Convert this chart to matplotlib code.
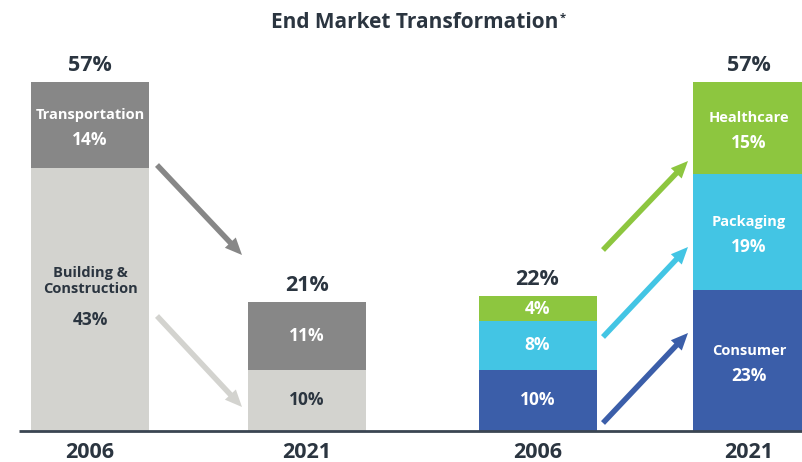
import matplotlib
matplotlib.use("Agg")
import matplotlib.pyplot as plt
from matplotlib.patches import FancyArrow

# ---- data ----
years = ["2006", "2021", "2006", "2021"]
totals = ["57%", "21%", "22%", "57%"]
# left group
left_segments = ["Building &\nConstruction", "Transportation"]
left_2006 = [43, 14]
left_2021 = [10, 11]
# right group
right_segments = ["Consumer", "Packaging", "Healthcare"]
right_2006 = [10, 8, 4]
right_2021 = [23, 19, 15]

# ---- style / layout ----
W, H = 802, 462
DARK = "#2b3540"
left_colors = ["#d3d3cf", "#878787"]
left_text = [DARK, "white"]
right_colors = ["#3b5ea9", "#43c5e4", "#8dc63f"]
centers = [90, 307, 537.5, 752]
bar_w = 118
base_px = 431
plt.rcParams['font.family'] = ['Open Sans', 'DejaVu Sans']

fig = plt.figure(figsize=(W / 100, H / 100), dpi=100)
ax = fig.add_axes([0, (H - base_px) / H, 1, base_px / H])
px_per_pct = 6.12
ax.set_xlim(0, W)
ax.set_ylim(0, base_px / px_per_pct)
ax.axis("off")

NAME_FS = 10.5
PCT_FS = 12.5
BIG_FS = 15.5

def stack(ax, x, vals, colors):
    bottom = 0
    mids = []
    for v, c in zip(vals, colors):
        ax.bar(x, v, bottom=bottom, width=bar_w, color=c, linewidth=0, clip_on=False)
        mids.append(bottom + v / 2)
        bottom += v
    return mids, bottom

# bar 1: 2006 left
mids, top = stack(ax, centers[0], left_2006, left_colors)
ax.text(centers[0], mids[0] + 3.0, left_segments[0], ha="center", va="center",
        fontsize=NAME_FS, fontweight="bold", color=DARK, linespacing=1.2)
ax.text(centers[0], mids[0] - 3.4, f"{left_2006[0]}%", ha="center", va="center",
        fontsize=PCT_FS, fontweight="bold", color=DARK)
ax.text(centers[0], mids[1] + 1.6, left_segments[1], ha="center", va="center",
        fontsize=NAME_FS, fontweight="bold", color="white")
ax.text(centers[0], mids[1] - 2.45, f"{left_2006[1]}%", ha="center", va="center",
        fontsize=PCT_FS, fontweight="bold", color="white")

# bar 2: 2021 left
mids, _ = stack(ax, centers[1], left_2021, left_colors)
for m, v, tc in zip(mids, left_2021, left_text):
    ax.text(centers[1], m, f"{v}%", ha="center", va="center",
            fontsize=PCT_FS, fontweight="bold", color=tc)

# bar 3: 2006 right
mids, _ = stack(ax, centers[2], right_2006, right_colors)
for m, v in zip(mids, right_2006):
    ax.text(centers[2], m, f"{v}%", ha="center", va="center",
            fontsize=PCT_FS, fontweight="bold", color="white")

# bar 4: 2021 right
mids, _ = stack(ax, centers[3], right_2021, right_colors)
for m, v, name in zip(mids, right_2021, right_segments):
    ax.text(centers[3] - 3, m + 1.6, name, ha="center", va="center",
            fontsize=NAME_FS, fontweight="bold", color="white")
    ax.text(centers[3] - 3, m - 2.45, f"{v}%", ha="center", va="center",
            fontsize=PCT_FS, fontweight="bold", color="white")

# totals above bars
tot_vals = [sum(left_2006), sum(left_2021), sum(right_2006), sum(right_2021)]
for i, (c, t, v) in enumerate(zip(centers, totals, tot_vals)):
    xo = -3 if i == 3 else 0
    ax.text(c + xo, v + 1.0, t, ha="center", va="bottom",
            fontsize=BIG_FS, fontweight="bold", color=DARK)

# baseline
ax.plot([19, W], [0, 0], color="#3a4552", lw=2, clip_on=False, solid_capstyle="butt")

# overlay axes in pixel coordinates for title, year labels and arrows
ov = fig.add_axes([0, 0, 1, 1])
ov.set_xlim(0, W)
ov.set_ylim(H, 0)
ov.axis("off")
ov.patch.set_alpha(0)

title = ov.text(415, 22, "End Market Transformation", ha="center", va="center",
                fontsize=15, fontweight="bold", color=DARK)
ov.annotate("*", xy=(1, 1), xycoords=title, xytext=(0.5, -1), textcoords="offset points",
            ha="left", va="top", fontsize=8, fontweight="bold", color=DARK)

for i, (c, y) in enumerate(zip(centers, years)):
    xo = -3 if i == 3 else 0
    ov.text(c + xo, 452, y, ha="center", va="center", fontsize=BIG_FS,
            fontweight="bold", color=DARK)

arrows = [((157, 165), (242, 255), "#878787"),
          ((157, 316), (242, 407), "#d3d3cf"),
          ((603, 250), (688, 161), "#8dc63f"),
          ((603, 337), (688, 247), "#43c5e4"),
          ((603, 423), (688, 333), "#3b5ea9")]
for (x0, y0), (x1, y1), col in arrows:
    ov.add_patch(FancyArrow(x0, y0, x1 - x0, y1 - y0, width=5.5, head_width=15,
                            head_length=17, length_includes_head=True,
                            color=col, linewidth=0))

fig.savefig("out.png", dpi=100)
